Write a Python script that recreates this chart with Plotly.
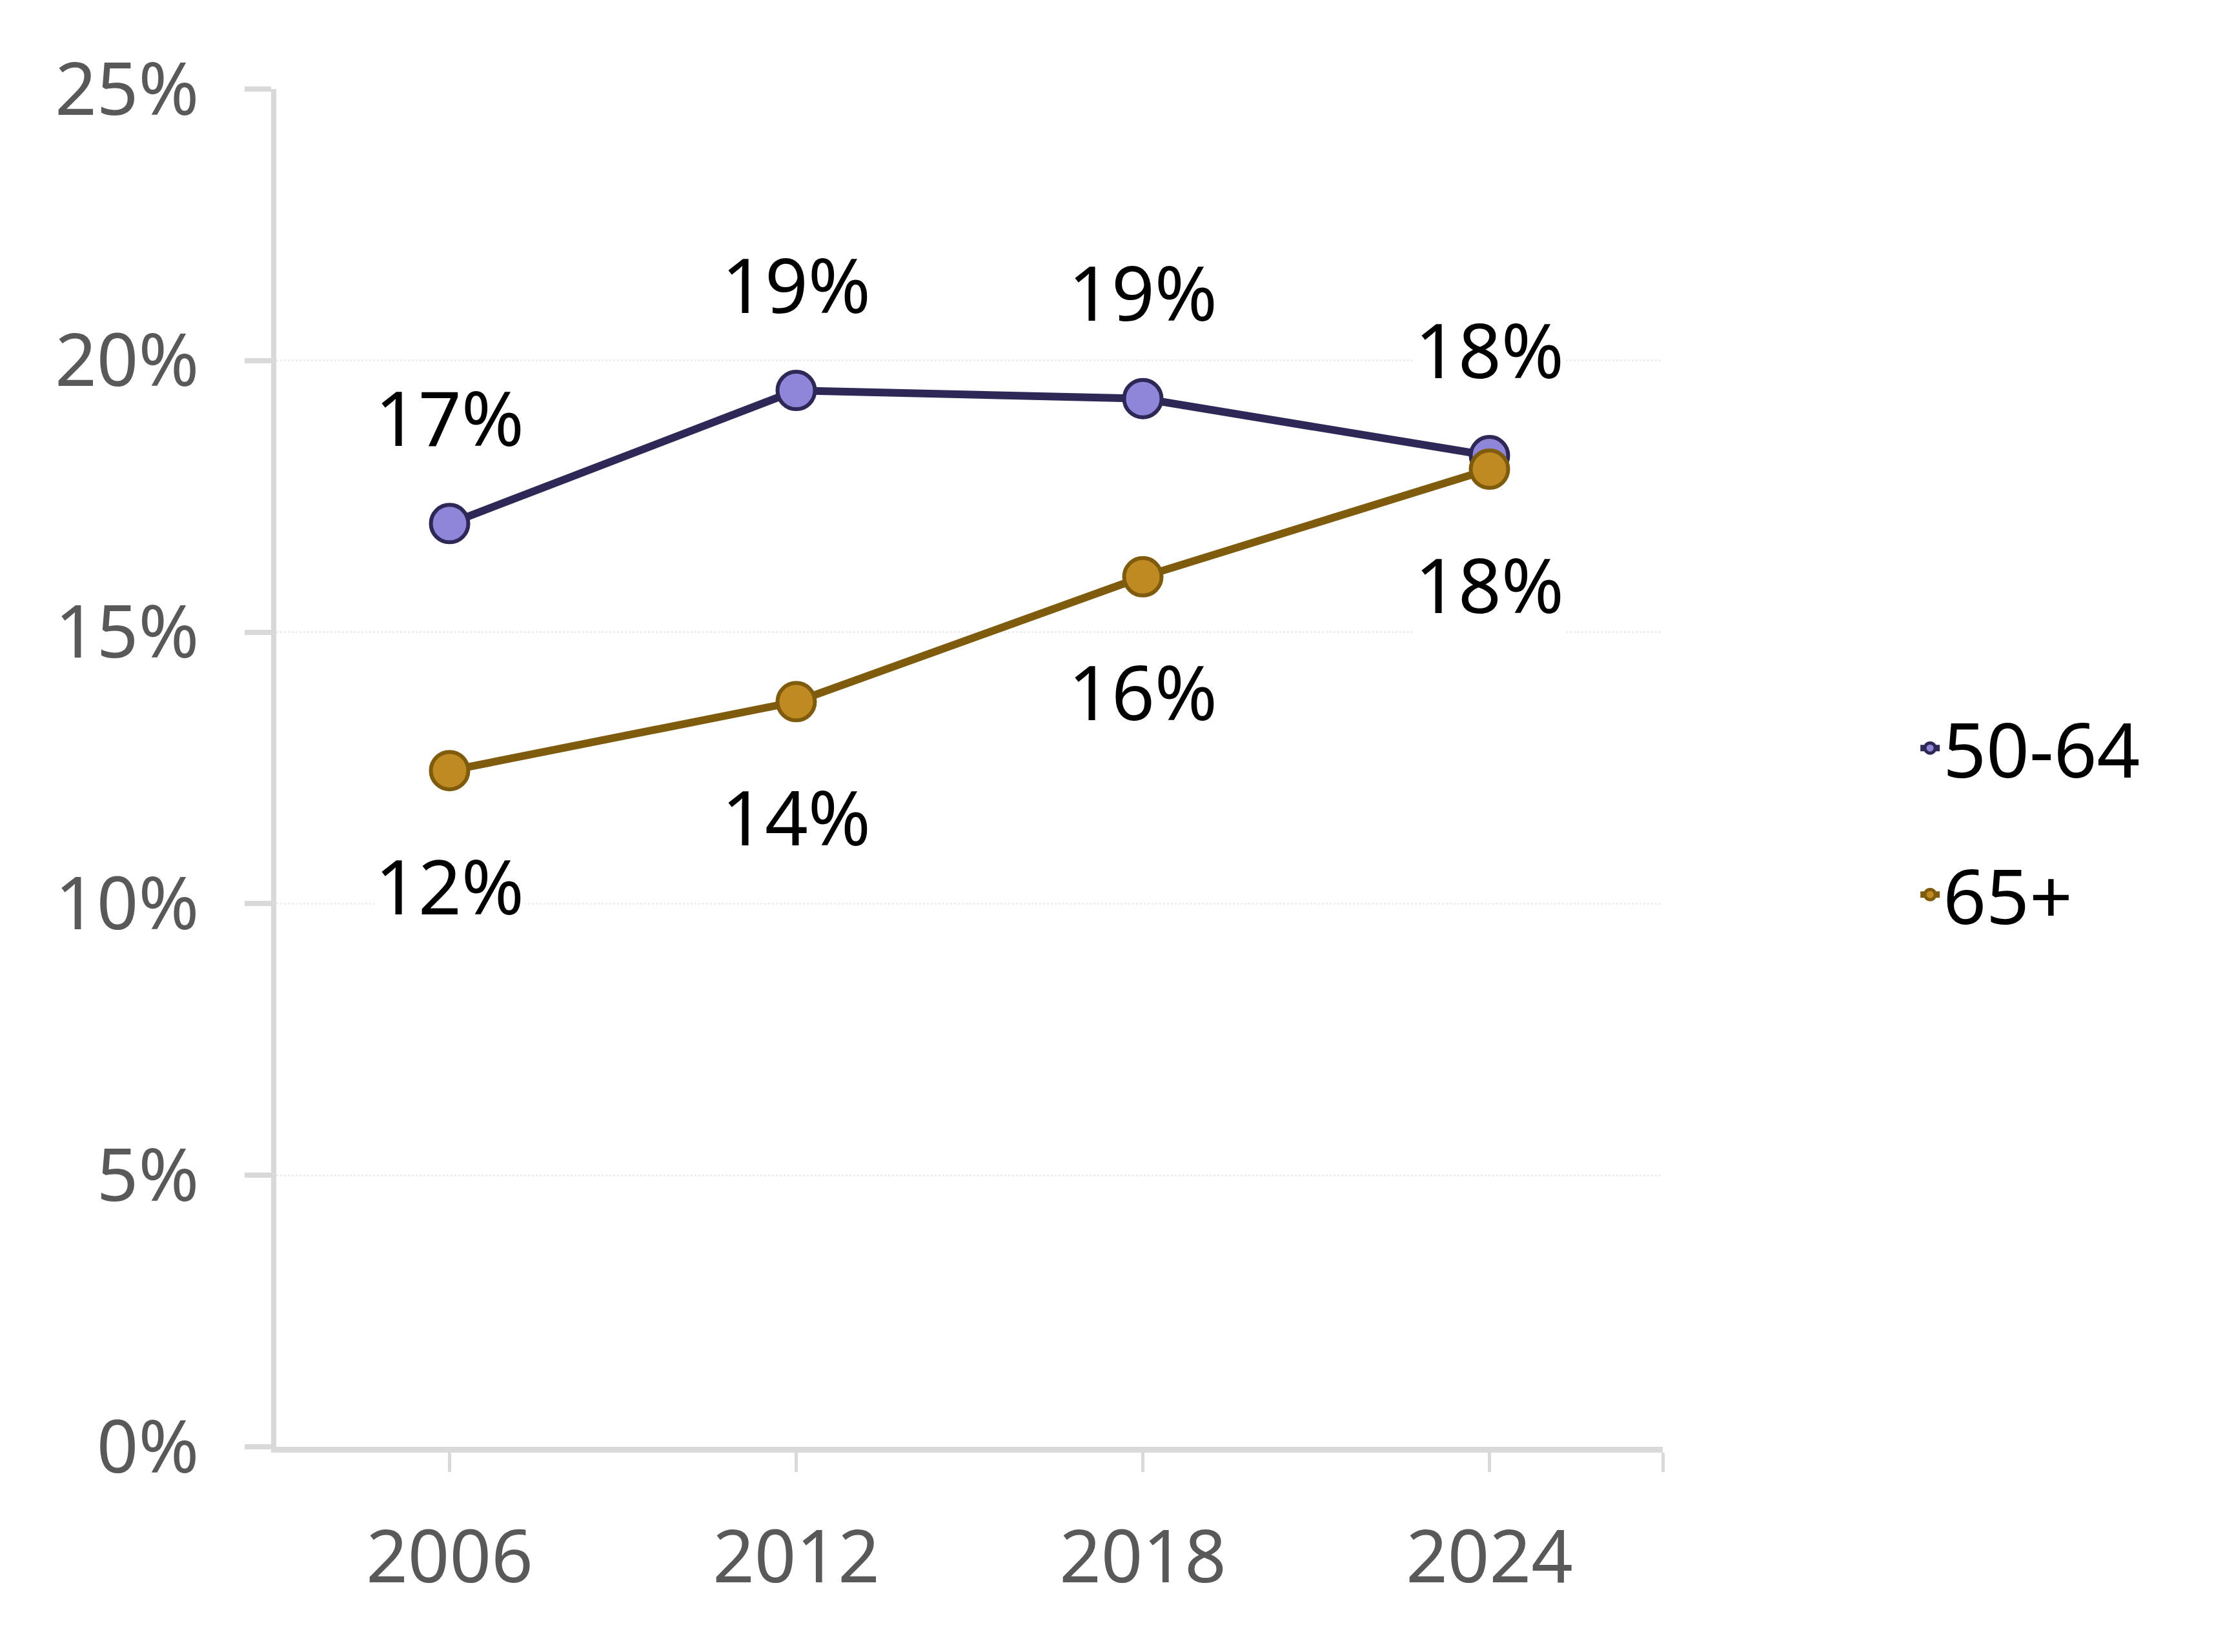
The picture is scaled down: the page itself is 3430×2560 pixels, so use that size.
import plotly.graph_objects as go

# survey years and shares (%) by age group
years = [2006, 2012, 2018, 2024]
share_50_64 = [17.0, 19.45, 19.3, 18.25]
share_65_plus = [12.45, 13.72, 16.02, 18.0]

series_names = ["50-64", "65+"]
y_ticks = [0, 5, 10, 15, 20, 25]
y_tick_labels = ["0%", "5%", "10%", "15%", "20%", "25%"]

FONT = "Noto Sans, Segoe UI, sans-serif"
GREY_AXIS = "#D9D9D9"
GREY_TEXT = "#595959"

styles = {
    "50-64": dict(line="#2E2856", fill="#8E86D8", shift=166),
    "65+": dict(line="#7F5B0E", fill="#BF8A22", shift=-177),
}

fig = go.Figure()
annotations = []

for name, vals in zip(series_names, [share_50_64, share_65_plus]):
    st = styles[name]
    fig.add_trace(go.Scatter(
        x=years, y=vals, name=name, legendgroup=name,
        mode="lines+markers",
        line=dict(color=st["line"], width=12),
        marker=dict(size=58, color=st["fill"], line=dict(color=st["line"], width=6)),
        hoverinfo="skip",
    ))
    # data labels with a white box so the gridlines break behind them
    for x, v in zip(years, vals):
        annotations.append(dict(
            x=x, y=v, xref="x", yref="y", text=f"{round(v)}%",
            showarrow=False, yshift=st["shift"], yanchor="middle",
            bgcolor="white", font=dict(family=FONT, size=117, color="black"),
        ))

fig.update_layout(
    width=3430, height=2560, autosize=False,
    margin=dict(l=420, r=862, t=130, b=326),
    plot_bgcolor="white", paper_bgcolor="white",
    font=dict(family=FONT, size=115, color=GREY_TEXT),
    annotations=annotations,
    showlegend=True,
    legend=dict(
        x=1.1835, y=0.4605, xanchor="left", yanchor="middle",
        font=dict(family=FONT, size=117, color="black"),
        traceorder="grouped", tracegroupgap=72,
        bgcolor="rgba(0,0,0,0)",
    ),
)

fig.update_xaxes(
    range=[2003, 2027],
    tickvals=years + [2027], ticktext=[str(y) for y in years] + [""],
    showgrid=False, zeroline=False,
    showline=True, linecolor=GREY_AXIS, linewidth=9,
    ticks="outside", ticklen=30, tickwidth=5, tickcolor=GREY_AXIS,
    tickfont=dict(family=FONT, size=113, color=GREY_TEXT),
    ticklabelstandoff=35, automargin=False,
)

fig.update_yaxes(
    range=[0, 25], tickvals=y_ticks, ticktext=y_tick_labels,
    showgrid=True, gridcolor="#EDEDED", gridwidth=3, griddash="dot",
    zeroline=False,
    showline=True, linecolor=GREY_AXIS, linewidth=8,
    ticks="outside", ticklen=41, tickwidth=8, tickcolor=GREY_AXIS,
    tickfont=dict(family=FONT, size=113, color=GREY_TEXT),
    ticklabelstandoff=48, automargin=False,
)

fig.write_html("out.html")
